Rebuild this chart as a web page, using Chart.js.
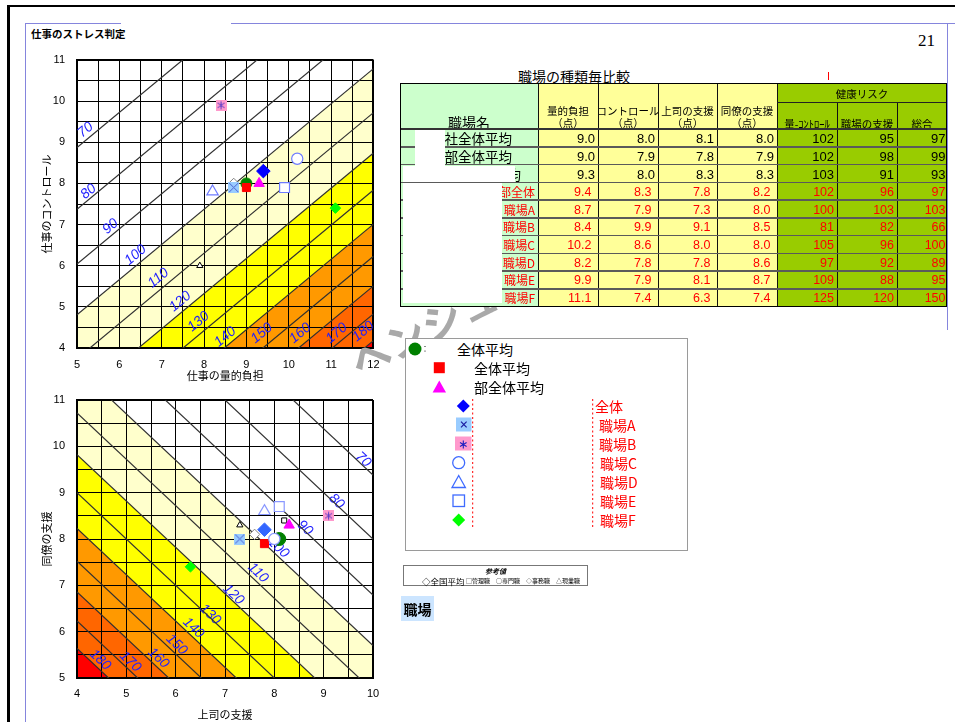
<!DOCTYPE html>
<html lang="ja">
<head>
<meta charset="utf-8">
<title>仕事のストレス判定</title>
<script src="https://cdn.jsdelivr.net/npm/chart.js@4.4.1/dist/chart.umd.min.js"></script>
<style>
  html, body { margin: 0; padding: 0; background: #fff; }
  #page { position: relative; width: 955px; height: 722px; overflow: hidden;
          font-family: 'Noto Sans CJK JP', 'Noto Sans', sans-serif; color: #000; }
  .a { position: absolute; white-space: nowrap; }
  canvas { position: absolute; }
</style>
</head>
<body>
<div id="page">
  <div class="a" style="left:7px;top:5px;width:948px;height:2px;background:#000"></div>
  <div class="a" style="left:7px;top:5px;width:2.5px;height:717px;background:#000"></div>
  <div class="a" style="left:25px;top:23px;width:1px;height:699px;background:#8585dd"></div>
  <div class="a" style="left:25px;top:23px;width:96px;height:1px;background:#8585dd"></div>
  <div class="a" style="left:231px;top:23px;width:724px;height:1px;background:#8585dd"></div>
  <div class="a" style="left:947px;top:23px;width:1px;height:307px;background:#8585dd"></div>
  <div class="a" style="left:31px;top:26px;font-size:10.5px;font-weight:bold;line-height:16px">仕事のストレス判定</div>
  <div class="a" style="left:918px;top:31px;font-family:'Liberation Serif',serif;font-size:17px;line-height:20px">21</div>

  <canvas id="loadChart" width="390" height="350" style="left:0;top:40px;width:390px;height:350px"></canvas>
  <canvas id="supportChart" width="390" height="342" style="left:0;top:380px;width:390px;height:342px"></canvas>

  <div class="a" style="left:352px;top:342px;font-size:40px;font-weight:bold;color:#a9a9a9;transform:rotate(-27deg);transform-origin:left center;line-height:44px">ヘンシュウチュウ</div>
</div>

<script>
// ---- scores per group (量的負担 / コントロール / 上司の支援 / 同僚の支援) ----
const groupNames  = ['社全体平均', '部全体平均', '部全体平均', '部全体', '職場A', '職場B', '職場C', '職場D', '職場E', '職場F'];
const workload    = [9.0, 9.0, 9.3, 9.4, 8.7, 8.4, 10.2, 8.2, 9.9, 11.1];
const control     = [8.0, 7.9, 8.0, 8.3, 7.9, 9.9, 8.6, 7.8, 7.9, 7.4];
const bossSupport = [8.1, 7.8, 8.3, 7.8, 7.3, 9.1, 8.0, 7.8, 8.1, 6.3];
const peerSupport = [8.0, 7.9, 8.3, 8.2, 8.0, 8.5, 8.0, 8.6, 8.7, 7.4];

// ---- health risk ----
const riskLoad    = [102, 102, 103, 102, 100, 81, 105, 97, 109, 125];
const riskSupport = [95, 98, 91, 96, 103, 82, 96, 92, 88, 120];
const riskTotal   = [97, 99, 93, 97, 103, 66, 100, 89, 95, 150];

// ---- reference points (全国平均 / 現業職 / 管理職) ----
const refLoadX    = [8.7, 7.9];
const refLoadY    = [8.0, 6.0];
const refSupportX = [7.6, 7.3, 8.2];
const refSupportY = [8.1, 8.3, 8.4];

// ---- risk contour levels and their end points ----
const riskLevels = [70, 80, 90, 100, 110, 120, 130, 140, 150, 160, 170, 180];
const loadLineYAt5   = [8.87, 7.37, 6.04, 4.81, 3.74, 2.76, 1.86, 1.03, 0.25, -0.47, -1.15, -1.79];
const loadLineYAt12  = [14.85, 13.35, 12.02, 10.79, 9.72, 8.74, 7.84, 7.01, 6.23, 5.51, 4.83, 4.18];
const supLineYAt4    = [15.38, 14.00, 12.79, 11.70, 10.72, 9.82, 9.00, 8.23, 7.52, 6.86, 6.23, 5.64];
const supLineYAt10   = [9.38, 8.00, 6.79, 5.70, 4.72, 3.82, 3.00, 2.23, 1.52, 0.86, 0.23, -0.36];
const loadLabelX = [5.20, 5.27, 5.79, 6.38, 6.92, 7.44, 7.87, 8.50, 9.36, 10.27, 11.13, 11.76];
const loadLabelY = [9.30, 7.80, 6.95, 6.26, 5.70, 5.13, 4.64, 4.27, 4.36, 4.36, 4.36, 4.40];
const supLabelX  = [9.80, 9.26, 8.62, 8.08, 7.67, 7.17, 6.70, 6.36, 6.02, 5.65, 5.08, 4.47];
const supLabelY  = [9.71, 8.81, 8.24, 7.81, 7.27, 6.80, 6.37, 6.08, 5.72, 5.43, 5.35, 5.39];

// ---- table / axis labels ----
const scoreHeads = ['量的負担', 'コントロール', '上司の支援', '同僚の支援'];
const riskHeads  = ['量-ｺﾝﾄﾛｰﾙ', '職場の支援', '総合'];

const bandColor = { 100: '#ffffcc', 120: '#ffff00', 140: '#ff9900', 160: '#ff6600', 180: '#ff0000' };
const JP = "'Noto Sans CJK JP', 'Noto Sans', sans-serif";
const NUM = "'Liberation Sans', Arial, sans-serif";

Chart.defaults.font.family = NUM;
Chart.defaults.color = '#000';

function squareIcon(size, fill, glyph, ink) {
  const c = document.createElement('canvas');
  c.width = size; c.height = size;
  const g = c.getContext('2d');
  g.fillStyle = fill; g.fillRect(0, 0, size, size);
  g.strokeStyle = ink; g.lineWidth = 1;
  g.beginPath();
  if (glyph === 'x') {
    g.moveTo(1, 1); g.lineTo(size - 1, size - 1);
    g.moveTo(size - 1, 1); g.lineTo(1, size - 1);
  } else {
    const m = size / 2;
    g.moveTo(m, 1.5); g.lineTo(m, size - 1.5);
    g.moveTo(2, 3); g.lineTo(size - 2, size - 3);
    g.moveTo(size - 2, 3); g.lineTo(2, size - 3);
  }
  g.stroke();
  return c;
}

function groupStyles(big, diamondBlue, outline) {
  return [
    { style: 'circle',   r: big ? 6.5 : 5.5, fill: '#008000', stroke: '#008000', bw: 1 },
    { style: 'rect',     r: 5.7, fill: '#ff0000', stroke: '#ff0000', bw: 1 },
    { style: 'triangle', r: 6,   fill: '#ff00ff', stroke: '#ff00ff', bw: 1 },
    { style: 'rectRot',  r: 6.8, fill: diamondBlue, stroke: diamondBlue, bw: 1 },
    { style: squareIcon(11, '#99ccff', 'x', '#4a5fd0'), r: 5, fill: '#99ccff', stroke: '#99ccff', bw: 0 },
    { style: squareIcon(11, '#ff99cc', '*', '#5a3cc8'), r: 5, fill: '#ff99cc', stroke: '#ff99cc', bw: 0 },
    { style: 'circle',   r: 5.6, fill: '#ffffff', stroke: outline, bw: 1.2 },
    { style: 'triangle', r: 6.6, fill: '#ffffff', stroke: outline, bw: 1.2 },
    { style: 'rect',     r: 7,   fill: '#ffffff', stroke: outline, bw: 1.2 },
    { style: 'rectRot',  r: 5.3, fill: '#00ff00', stroke: '#00ff00', bw: 1 }
  ];
}

function contourSets(x0, x1, yStart, yEnd) {
  return riskLevels.map((lv, i) => ({
    data: [{ x: x0, y: yStart[i] }, { x: x1, y: yEnd[i] }],
    showLine: true,
    borderColor: '#303030',
    borderWidth: 1.2,
    pointRadius: 0,
    fill: bandColor[lv] ? 'start' : false,
    backgroundColor: bandColor[lv] || 'rgba(0,0,0,0)',
    order: 200 - i
  }));
}

function markerSets(xs, ys, styles) {
  return xs.map((x, i) => ({
    data: [{ x, y: ys[i] }],
    showLine: false,
    pointStyle: styles[i].style,
    pointRadius: styles[i].r,
    pointBackgroundColor: styles[i].fill,
    pointBorderColor: styles[i].stroke,
    pointBorderWidth: styles[i].bw,
    order: 30 - i
  }));
}

function refSets(xs, ys, kinds) {
  const look = {
    diamond: { style: 'rectRot', r: 5.2, fill: '#ffffff', stroke: '#808080', bw: 1 },
    tri:     { style: 'triangle', r: 3.6, fill: '#ffffff', stroke: '#000000', bw: 1 },
    sq:      { style: 'rect', r: 3.6, fill: '#ffffff', stroke: '#000000', bw: 1 }
  };
  return xs.map((x, i) => {
    const s = look[kinds[i]];
    return {
      data: [{ x, y: ys[i] }], showLine: false,
      pointStyle: s.style, pointRadius: s.r,
      pointBackgroundColor: s.fill, pointBorderColor: s.stroke, pointBorderWidth: s.bw,
      order: 50
    };
  });
}

function contourLabelPlugin(lx, ly, x0, x1, y0s, y1s) {
  return {
    id: 'contourLabels',
    beforeDatasetsDraw(chart) {
      const { ctx, chartArea: a, scales: { x, y } } = chart;
      ctx.save();
      ctx.beginPath();
      ctx.rect(a.left, a.top, a.right - a.left, a.bottom - a.top);
      ctx.clip();
      ctx.fillStyle = '#1f1fff';
      ctx.font = 'italic 14px ' + NUM;
      ctx.textAlign = 'center';
      ctx.textBaseline = 'middle';
      riskLevels.forEach((lv, i) => {
        const ang = Math.atan2(
          y.getPixelForValue(y1s[i]) - y.getPixelForValue(y0s[i]),
          x.getPixelForValue(x1) - x.getPixelForValue(x0));
        ctx.save();
        ctx.translate(x.getPixelForValue(lx[i]), y.getPixelForValue(ly[i]));
        ctx.rotate(ang);
        ctx.fillText(String(lv), 0, 0);
        ctx.restore();
      });
      ctx.restore();
    }
  };
}

const intLabel = v => (Number.isInteger(v) ? String(v) : '');
const edgeWidth = (min, max) => c => (c.tick && (c.tick.value === min || c.tick.value === max)) ? 2 : 1;

function riskChart(id, o) {
  return new Chart(document.getElementById(id), {
    type: 'line',
    data: { datasets: [...o.markers, ...o.refs, ...o.contours] },
    options: {
      responsive: false,
      animation: false,
      events: [],
      layout: { padding: o.padding },
      plugins: {
        legend: { display: false },
        tooltip: { enabled: false },
        filler: { drawTime: 'beforeDraw' }
      },
      scales: {
        x: {
          type: 'linear', position: 'bottom', min: o.xMin, max: o.xMax,
          afterFit: s => { s.height = o.xHeight; },
          ticks: { stepSize: 0.5, maxTicksLimit: 100, autoSkip: false, maxRotation: 0,
                   padding: o.xTickPad, font: { size: 11 }, color: '#000', callback: intLabel },
          grid: { color: '#000', lineWidth: edgeWidth(o.xMin, o.xMax), drawTicks: false },
          border: { color: '#000', width: 2 },
          title: { display: true, text: o.xTitle, color: '#000',
                   font: { family: JP, size: 11 }, padding: { top: 0, bottom: o.xTitlePad } }
        },
        y: {
          type: 'linear', position: 'left', min: o.yMin, max: o.yMax,
          afterFit: s => { s.width = 77; },
          ticks: { stepSize: 0.5, maxTicksLimit: 100, autoSkip: false,
                   padding: 12, font: { size: 11 }, color: '#000', callback: intLabel },
          grid: { color: '#000', lineWidth: edgeWidth(o.yMin, o.yMax), drawTicks: false },
          border: { color: '#000', width: 2 },
          title: { display: true, text: o.yTitle, color: '#000',
                   font: { family: JP, size: 11 }, padding: { top: 40, bottom: 0 } }
        }
      }
    },
    plugins: [o.labels]
  });
}

// 仕事の量的負担 × 仕事のコントロール
riskChart('loadChart', {
  xMin: 5, xMax: 12, yMin: 4, yMax: 11,
  xTitle: '仕事の量的負担', yTitle: '仕事のコントロール',
  padding: { left: 0, top: 20, right: 16, bottom: 0 },
  xHeight: 42, xTickPad: 10.4, xTitlePad: 7.4,
  markers: markerSets(workload, control, groupStyles(false, '#0000ff', '#6f7cff')),
  refs: refSets(refLoadX, refLoadY, ['diamond', 'tri']),
  contours: contourSets(5, 12, loadLineYAt5, loadLineYAt12),
  labels: contourLabelPlugin(loadLabelX, loadLabelY, 5, 12, loadLineYAt5, loadLineYAt12)
});

// 上司の支援 × 同僚の支援
riskChart('supportChart', {
  xMin: 4, xMax: 10, yMin: 5, yMax: 11,
  xTitle: '上司の支援', yTitle: '同僚の支援',
  padding: { left: 0, top: 20, right: 17, bottom: 0 },
  xHeight: 44, xTickPad: 9.4, xTitlePad: 0.4,
  markers: markerSets(bossSupport, peerSupport, groupStyles(true, '#3366ff', '#8a98ff')),
  refs: refSets(refSupportX, refSupportY, ['diamond', 'tri', 'sq']),
  contours: contourSets(4, 10, supLineYAt4, supLineYAt10),
  labels: contourLabelPlugin(supLabelX, supLabelY, 4, 10, supLineYAt4, supLineYAt10)
});

// ---- comparison table ----
const page = document.getElementById('page');
function box(l, t, w, h, css, text) {
  const d = document.createElement('div');
  d.className = 'a';
  d.style.cssText = `left:${l}px;top:${t}px;width:${w}px;height:${h}px;` + (css || '');
  if (text !== undefined) d.textContent = text;
  page.appendChild(d);
  return d;
}
const center = 'display:flex;align-items:center;justify-content:center;';
const right = 'display:flex;align-items:center;justify-content:flex-end;';

box(518, 67, 112, 18, 'font-size:14px;line-height:18px;text-decoration:underline;text-align:center', '職場の種類毎比較');
box(828, 72, 1, 8, 'background:#ff0000');

const colX = [400, 538, 598, 658, 717, 777, 837, 897, 947];
const tTop = 83, tSub = 102, tHead = 129.3, rowH = 17.72;
const tBottom = tHead + rowH * groupNames.length;
const nameRight = [512, 512, 521, 535, 535, 535, 535, 535, 535, 535];

box(colX[0], tTop, colX[1] - colX[0], tBottom - tTop, 'background:#ccffcc');
box(colX[1], tTop, colX[5] - colX[1], tBottom - tTop, 'background:#ffff99');
box(colX[5], tTop, colX[8] - colX[5], tBottom - tTop, 'background:#99cc00');

box(colX[0], 113, colX[1] - colX[0], 18, center + 'font-size:14px', '職場名');
scoreHeads.forEach((h, k) => {
  const w = colX[k + 2] - colX[k + 1];
  box(colX[k + 1], 103, w, 14, center + 'font-size:10.5px', h);
  box(colX[k + 1], 115, w, 14, center + 'font-size:10.5px', '（点）');
});
box(colX[5], 85, colX[8] - colX[5], 16, center + 'font-size:10.5px', '健康リスク');
riskHeads.forEach((h, k) => {
  box(colX[k + 5], 116, colX[k + 6] - colX[k + 5], 14, center + 'font-size:10.5px', h);
});

groupNames.forEach((name, i) => {
  const top = tHead + i * rowH;
  const red = i >= 3;
  const col = red ? '#ff0000' : '#000000';
  box(colX[0], top, nameRight[i] - colX[0], rowH,
      right + `color:${col};font-size:${red ? 12 : 13.5}px`, name);
  [workload[i], control[i], bossSupport[i], peerSupport[i]].forEach((v, k) => {
    box(colX[k + 1], top + 0.5, colX[k + 2] - colX[k + 1] - (red ? 6.5 : 3), rowH,
        right + `color:${col};font-family:${NUM};font-size:${red ? 12.5 : 13}px`, v.toFixed(1));
  });
  [riskLoad[i], riskSupport[i], riskTotal[i]].forEach((v, k) => {
    box(colX[k + 5], top + 0.5, colX[k + 6] - colX[k + 5] - (k === 2 ? 1.5 : 3), rowH,
        right + `color:${col};font-family:${NUM};font-size:${red ? 12.5 : 13}px`, String(v));
  });
});

for (let k = 1; k <= 7; k++) {
  const t0 = k >= 6 ? tSub : tTop;
  box(colX[k] - 0.5, t0, 1, tBottom - t0, 'background:#111');
}
box(colX[5], tSub - 0.5, colX[8] - colX[5], 1, 'background:#222');
for (let i = 1; i < groupNames.length; i++) {
  box(colX[0], tHead + i * rowH - 0.75, colX[8] - colX[0], 1.5, 'background:#5a5a5a');
}
box(colX[0], tHead - 1, colX[8] - colX[0], 2, 'background:#333');
box(colX[0], tTop, colX[8] - colX[0], tBottom - tTop, 'border:1px solid #000;box-sizing:border-box;border-left-width:1.5px');

box(415, 130, 30, 36, 'background:#fff');
box(403, 166, 112, 15.5, 'background:#fff');
box(403, 183, 99, 120, 'background:#fff');

// ---- legend ----
box(405, 338, 283, 213, 'background:#fff;border:1px solid #9a9a9a;box-sizing:border-box');
const svgNS = 'http://www.w3.org/2000/svg';
const svg = document.createElementNS(svgNS, 'svg');
svg.setAttribute('width', '955'); svg.setAttribute('height', '722');
svg.style.cssText = 'position:absolute;left:0;top:0';
svg.innerHTML = `
  <circle cx="415" cy="349" r="6.5" fill="#008000"/>
  <circle cx="425" cy="346.5" r="0.6" fill="#000"/><circle cx="425" cy="351" r="0.6" fill="#000"/>
  <rect x="433.8" y="362.2" width="11" height="11" fill="#ff0000"/>
  <polygon points="439.3,380.5 432.6,392.5 446,392.5" fill="#ff00ff"/>
  <polygon points="463.3,399.5 469.8,406 463.3,412.5 456.8,406" fill="#0000ff"/>
  <rect x="456" y="417.5" width="15.5" height="14" fill="#99ccff"/>
  <path d="M461 421.7 L466.6 427.3 M466.6 421.7 L461 427.3" stroke="#1a1aa0" stroke-width="1.2"/>
  <rect x="455" y="436.5" width="16.5" height="14" fill="#ff99cc"/>
  <path d="M463.3 440.5 V448.5 M460 442.5 L466.6 446.5 M466.6 442.5 L460 446.5" stroke="#2020c0" stroke-width="1.1"/>
  <circle cx="458.7" cy="462.7" r="6" fill="#fff" stroke="#3f6bff" stroke-width="1.3"/>
  <polygon points="458.7,475.5 452,487.5 465.4,487.5" fill="#fff" stroke="#3f6bff" stroke-width="1.3"/>
  <rect x="453" y="495" width="11.5" height="11.5" fill="#fff" stroke="#3f6bff" stroke-width="1.3"/>
  <polygon points="458.7,513.5 465.2,520 458.7,526.5 452.2,520" fill="#00ff00"/>
  <line x1="472.7" y1="399" x2="472.7" y2="527" stroke="#ff0000" stroke-width="1" stroke-dasharray="2 2.5"/>
  <line x1="592.7" y1="399" x2="592.7" y2="527" stroke="#ff0000" stroke-width="1" stroke-dasharray="2 2.5"/>
`;
page.appendChild(svg);

const legendText = ['全体平均', '全体平均', '部全体平均', '全体', '職場A', '職場B', '職場C', '職場D', '職場E', '職場F'];
const legendX = [457, 474, 474, 595, 599, 599, 600, 600, 600, 600];
const legendY = [349, 367.7, 386.7, 406, 425, 444, 462.7, 481.7, 500.7, 520];
legendText.forEach((t, i) => {
  box(legendX[i], legendY[i] - 9, 120, 18,
      `display:flex;align-items:center;font-size:14px;color:${i >= 3 ? '#ff0000' : '#000'}`, t);
});

// ---- reference values ----
box(403, 565, 185, 21, 'border:1px solid #777;box-sizing:border-box;background:#fff');
box(403, 566, 185, 9, center + 'font-size:7px;font-weight:bold;font-style:italic', '参考値');
box(422, 575, 44, 11, 'display:flex;align-items:center;font-size:8.5px', '◇全国平均');
box(466, 575, 122, 11, 'display:flex;align-items:center;font-size:6px;word-spacing:2px',
    '□管理職　○専門職　◇事務職　△現業職');

box(401, 596, 33, 25, center + 'background:#cce5ff;font-size:14px;font-weight:bold', '職場');
</script>
</body>
</html>
